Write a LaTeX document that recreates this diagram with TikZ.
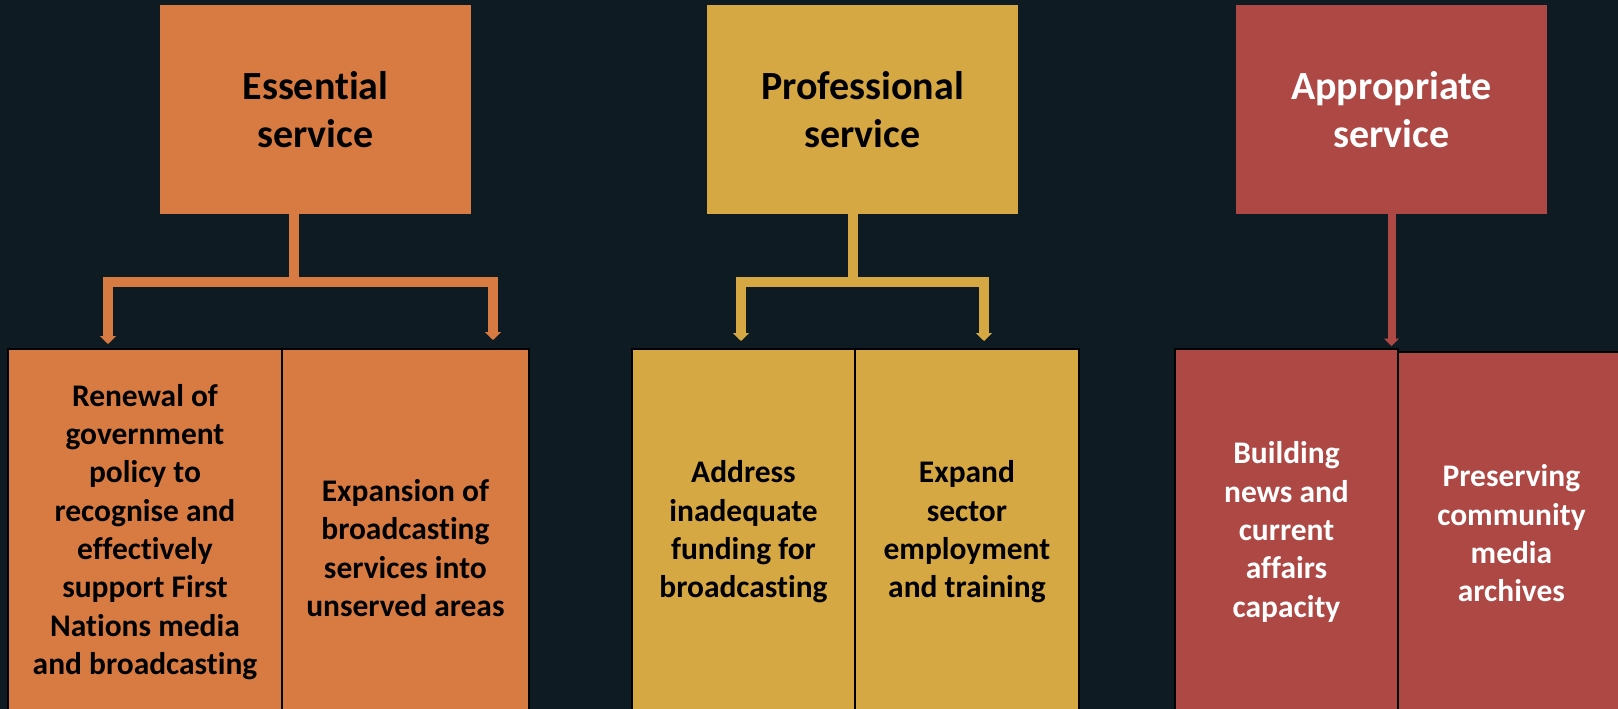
\documentclass[tikz,border=0pt]{standalone}
\usepackage{fontspec}
\setmainfont{Carlito}[Ligatures=NoCommon, RawFeature={-liga;-dlig}]
\usetikzlibrary{arrows.meta,positioning}
\definecolor{slate}{HTML}{0F1B22}
\definecolor{essorange}{HTML}{D87B42}
\definecolor{progold}{HTML}{D6A843}
\definecolor{appred}{HTML}{AD4845}

\begin{document}
\begin{tikzpicture}[x=0.02cm, y=-0.02cm,
  headbox/.style={minimum width=6.22cm, minimum height=4.18cm, inner sep=0pt, outer sep=0pt,
    align=center, font=\bfseries\fontsize{22.76}{27.3}\selectfont},
  lowbox/.style={draw=black, line width=0.05cm, anchor=north west, minimum height=7.32cm,
    inner sep=0pt, outer sep=0pt, align=center, font=\bfseries\fontsize{17.9}{21.8}\selectfont},
  link/.style={line width=0.2cm},
  downarrow/.style={-{Triangle[width=0.32cm,length=0.16cm]}}
]
  \useasboundingbox (0,0) rectangle (1618,709);
  \clip (0,0) rectangle (1618,709);
  \fill[slate] (0,0) rectangle (1618,709);

  % top row
  \node[headbox, fill=essorange] (ess) at (315.5,109.5) {Essential\\service};
  \node[headbox, fill=progold] (prof) at (862.5,109.5) {Professional\\service};
  \node[headbox, fill=appred, text=white] (appr) at (1391.5,109.5) {Appropriate\\service};

  % bottom row
  \node[lowbox, fill=essorange, minimum width=5.48cm] (renewal) at (8,349)
    {Renewal of\\government\\policy to\\recognise and\\effectively\\support First\\Nations media\\and broadcasting};
  \node[lowbox, fill=essorange, minimum width=4.94cm, minimum height=7.96cm] (expansion) at (renewal.north east)
    {Expansion of\\broadcasting\\services into\\unserved areas};
  \node[lowbox, fill=progold, minimum width=4.46cm] (funding) at (632,349)
    {Address\\inadequate\\funding for\\broadcasting};
  \node[lowbox, fill=progold, minimum width=4.48cm] (employ) at (funding.north east)
    {Expand\\sector\\employment\\and training};
  \node[lowbox, fill=appred, text=white, minimum width=4.46cm] (news) at (1175,349)
    {Building\\news and\\current\\affairs\\capacity};
  \node[lowbox, fill=appred, text=white, minimum width=4.54cm, minimum height=7.26cm] (archive)
    at ([yshift=-0.06cm]news.north east) {Preserving\\community\\media\\archives};

  % essential links
  \coordinate (ejoin) at (294,282);
  \coordinate (eleft) at (108,282);
  \coordinate (eright) at (493,282);
  \draw[link, essorange] (ess.south -| ejoin) -- (ejoin);
  \draw[link, essorange, line cap=rect] (eleft) -- (eright);
  \draw[link, essorange, downarrow, shorten >=0.1cm] (eleft) -- (eleft |- renewal.north);
  \draw[link, essorange, downarrow, shorten >=0.18cm] (eright) -- (eright |- expansion.north);

  % professional links
  \coordinate (pjoin) at (853,282);
  \coordinate (pleft) at (741,282);
  \coordinate (pright) at (984,282);
  \draw[link, progold] (prof.south -| pjoin) -- (pjoin);
  \draw[link, progold, line cap=rect] (pleft) -- (pright);
  \draw[link, progold, downarrow, shorten >=0.16cm] (pleft) -- (pleft |- funding.north);
  \draw[link, progold, downarrow, shorten >=0.16cm] (pright) -- (pright |- employ.north);

  % appropriate link
  \draw[link, appred, line width=0.16cm, -{Triangle[width=0.3cm,length=0.15cm]}, shorten >=0.06cm]
    (appr.south) -- (appr.south |- news.north);
\end{tikzpicture}
\end{document}
